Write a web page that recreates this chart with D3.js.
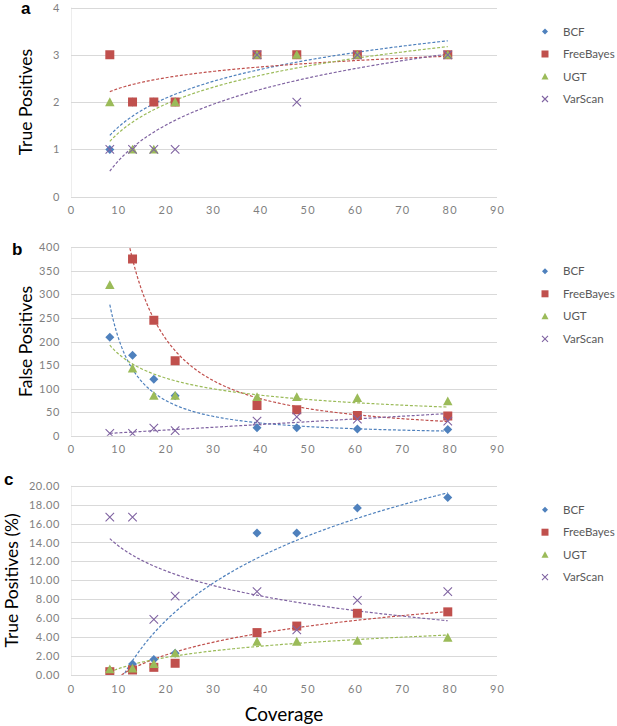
<!DOCTYPE html>
<html>
<head>
<meta charset="utf-8">
<script src="https://cdn.jsdelivr.net/npm/d3@7/dist/d3.min.js"></script>
<style>
  html, body { margin: 0; padding: 0; background: #fff; }
  svg { display: block; }
  .tick text { font-family: Lato, "Open Sans", sans-serif; }
</style>
</head>
<body>
<svg id="chart" width="617" height="726"></svg>
<script>
// ---------------- DATA ----------------
const coverage = [8.2, 13, 17.5, 22, 39.3, 47.7, 60.5, 79.6];
const seriesNames = ["BCF", "FreeBayes", "UGT", "VarScan"];

// Panel a: True Positives
const tpBCF       = [1, 2, 2, 2, 3, 3, 3, 3];
const tpFreeBayes = [3, 2, 2, 2, 3, 3, 3, 3];
const tpUGT       = [2, 1, 1, 2, 3, 3, 3, 3];
const tpVarScan   = [1, 1, 1, 1, 3, 2, 3, 3];

// Panel b: False Positives
const fpBCF       = [209, 171, 120, 85, 17, 17, 14, 13];
const fpFreeBayes = [850, 375, 245, 159, 64, 55, 43, 42];
const fpUGT       = [320, 143, 85, 85, 82, 82, 80, 73];
const fpVarScan   = [5, 5, 16, 11, 31, 40, 35, 31];

// Panel c: True Positives (%)
const pctBCF       = [0.48, 1.16, 1.64, 2.30, 15.00, 15.00, 17.65, 18.75];
const pctFreeBayes = [0.35, 0.53, 0.81, 1.24, 4.48, 5.17, 6.52, 6.67];
const pctUGT       = [0.62, 0.69, 1.16, 2.30, 3.53, 3.53, 3.61, 3.95];
const pctVarScan   = [16.67, 16.67, 5.88, 8.33, 8.82, 4.76, 7.89, 8.82];

// Axis ticks
const xTicks  = [0, 10, 20, 30, 40, 50, 60, 70, 80, 90];
const yTicksA = [0, 1, 2, 3, 4];
const yTicksB = [0, 50, 100, 150, 200, 250, 300, 350, 400];
const yTicksC = [0, 2, 4, 6, 8, 10, 12, 14, 16, 18, 20];

// ---------------- STYLE ----------------
const colors = { BCF: "#4F81BD", FreeBayes: "#C0504D", UGT: "#9BBB59", VarScan: "#8064A2" };
const tickColor = "#7f7f7f";
const gridColor = "#D9D9D9";
const fontFam = "Lato, 'Open Sans', sans-serif";

const svg = d3.select("#chart");
const left = 71, right = 497;

const panels = [
  { id: "a", top: 7.5, bottom: 196.7, yMax: 4, ticks: yTicksA, fmt: d3.format("d"),
    title: "True Positives", titleX: 32, letterX: 21, letterY: 14, fit: "log",
    data: { BCF: tpBCF, FreeBayes: tpFreeBayes, UGT: tpUGT, VarScan: tpVarScan } },
  { id: "b", top: 247.3, bottom: 435.7, yMax: 400, ticks: yTicksB, fmt: d3.format("d"),
    title: "False Positives", titleX: 32, letterX: 12, letterY: 255, fit: "power",
    data: { BCF: fpBCF, FreeBayes: fpFreeBayes, UGT: fpUGT, VarScan: fpVarScan } },
  { id: "c", top: 485.7, bottom: 675, yMax: 20, ticks: yTicksC, fmt: d3.format(".2f"),
    title: "True Positives (%)", titleX: 18, letterX: 4, letterY: 485, fit: "log",
    data: { BCF: pctBCF, FreeBayes: pctFreeBayes, UGT: pctUGT, VarScan: pctVarScan } }
];

const x = d3.scaleLinear().domain([0, 90]).range([left, right]);

function regress(xs, ys, type) {
  // Excel-style logarithmic (y = a + b ln x) or power (y = c x^b) trendline
  const lx = xs.map(Math.log);
  const ty = type === "power" ? ys.map(Math.log) : ys.slice();
  const n = lx.length;
  const mx = d3.mean(lx), my = d3.mean(ty);
  let sxy = 0, sxx = 0;
  for (let i = 0; i < n; i++) { sxy += (lx[i] - mx) * (ty[i] - my); sxx += (lx[i] - mx) ** 2; }
  const b = sxy / sxx, a = my - b * mx;
  return type === "power" ? (v => Math.exp(a + b * Math.log(v))) : (v => a + b * Math.log(v));
}

function markerPath(name, s) {
  const h = s / 2;
  if (name === "BCF") return `M0,${-h}L${h},0L0,${h}L${-h},0Z`;
  if (name === "FreeBayes") return `M${-h},${-h}H${h}V${h}H${-h}Z`;
  if (name === "UGT") return `M0,${-h}L${h},${h * 0.85}L${-h},${h * 0.85}Z`;
  return `M${-h},${-h}L${h},${h}M${h},${-h}L${-h},${h}`;
}
function drawMarker(g, name, s) {
  const p = g.append("path").attr("d", markerPath(name, s));
  if (name === "VarScan") p.attr("fill", "none").attr("stroke", colors[name]).attr("stroke-width", 1.1);
  else p.attr("fill", colors[name]);
  return p;
}

panels.forEach(P => {
  const y = d3.scaleLinear().domain([0, P.yMax]).range([P.bottom, P.top]);
  const g = svg.append("g");

  // faint left edge line
  g.append("line").attr("x1", left + 0.5).attr("x2", left + 0.5)
    .attr("y1", P.top).attr("y2", P.bottom).attr("stroke", "#EDEDED");

  // grid
  g.append("g").selectAll("line").data(P.ticks).join("line")
    .attr("x1", left).attr("x2", right)
    .attr("y1", d => Math.round(y(d)) + 0.5).attr("y2", d => Math.round(y(d)) + 0.5)
    .attr("stroke", gridColor).attr("stroke-width", 1);

  // y axis labels
  const ya = g.append("g").attr("transform", `translate(${left},0)`)
    .call(d3.axisLeft(y).tickValues(P.ticks).tickFormat(P.fmt).tickSize(0).tickPadding(11));
  ya.select(".domain").remove();
  ya.selectAll("text").attr("fill", tickColor).style("font-size", "11px").style("letter-spacing", "0.6px");

  // x axis labels
  const xa = g.append("g").attr("transform", `translate(0,${P.bottom})`)
    .call(d3.axisBottom(x).tickValues(xTicks).tickSize(0).tickPadding(10));
  xa.select(".domain").remove();
  xa.selectAll("text").attr("fill", tickColor).style("font-size", "11px").style("letter-spacing", "1.2px");

  // clip
  const clipId = "clip-" + P.id;
  svg.append("clipPath").attr("id", clipId).append("rect")
    .attr("x", left).attr("y", P.top).attr("width", right - left).attr("height", P.bottom - P.top);

  // trendlines
  const tl = g.append("g").attr("clip-path", `url(#${clipId})`);
  const x0 = d3.min(coverage), x1 = d3.max(coverage);
  const samples = d3.range(0, 201).map(i => x0 + (x1 - x0) * i / 200);
  seriesNames.forEach(name => {
    const f = regress(coverage, P.data[name], P.fit);
    const line = d3.line().x(d => x(d)).y(d => y(f(d)));
    tl.append("path").attr("d", line(samples))
      .attr("fill", "none").attr("stroke", colors[name]).attr("stroke-width", 1.2)
      .attr("stroke-dasharray", "3,1.8");
  });

  // points
  const pts = g.append("g").attr("clip-path", `url(#${clipId})`);
  seriesNames.forEach(name => {
    P.data[name].forEach((v, i) => {
      const mg = pts.append("g").attr("transform", `translate(${x(coverage[i])},${y(v)})`);
      drawMarker(mg, name, name === "VarScan" ? 8.5 : name === "UGT" ? 9.5 : 9);
    });
  });

  // legend
  const lg = g.append("g");
  seriesNames.forEach((name, i) => {
    const ly = P.top + 24 + i * 22.5;
    const mg = lg.append("g").attr("transform", `translate(545,${ly})`);
    drawMarker(mg, name, name === "BCF" ? 6 : name === "FreeBayes" ? 7 : name === "UGT" ? 7 : 6);
    lg.append("text").attr("x", 563).attr("y", ly).attr("dy", "0.35em")
      .attr("font-family", fontFam).attr("font-size", 11.5).attr("fill", "#595959")
      .text(name);
  });

  // y title
  g.append("text")
    .attr("transform", `translate(${P.titleX},${(P.top + P.bottom) / 2}) rotate(-90)`)
    .attr("text-anchor", "middle").attr("font-family", fontFam).attr("font-size", 17.5)
    .attr("fill", "#000").text(P.title);

  // panel letter
  g.append("text").attr("x", P.letterX).attr("y", P.letterY)
    .attr("font-family", "Liberation Sans, Arial, sans-serif").attr("font-weight", "bold")
    .attr("font-size", 17).attr("fill", "#000").text(P.id);
});

// x title
svg.append("text").attr("x", (left + right) / 2).attr("y", 721)
  .attr("text-anchor", "middle").attr("font-family", fontFam).attr("font-size", 19)
  .attr("fill", "#000").text("Coverage");
</script>
</body>
</html>
